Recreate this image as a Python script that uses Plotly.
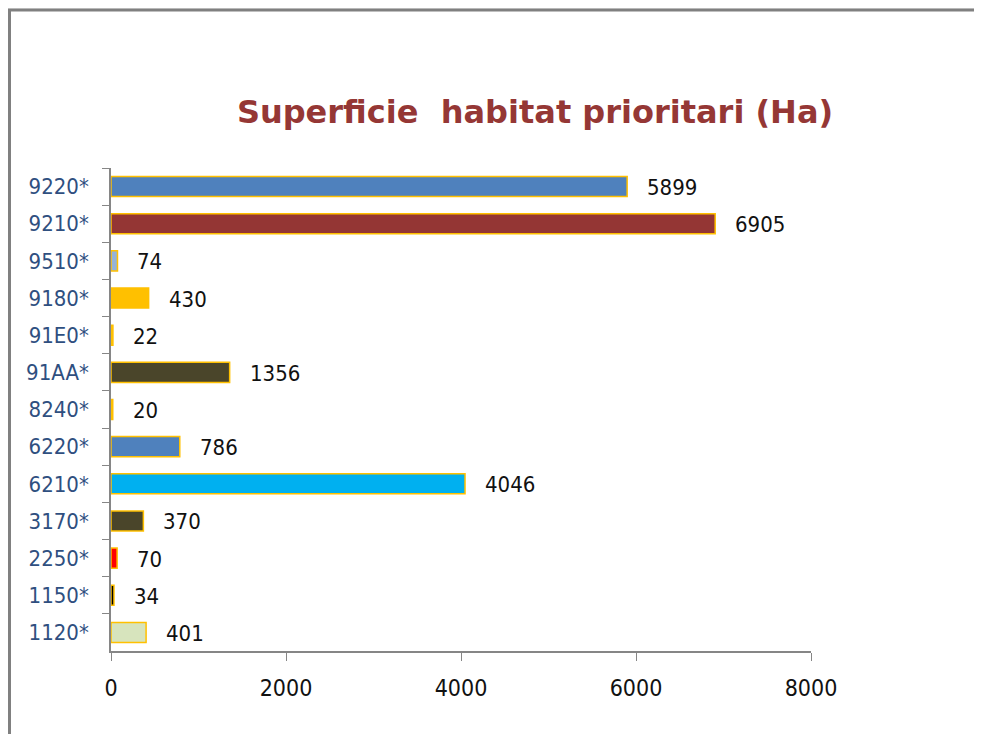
import plotly.graph_objects as go

categories = ["9220*", "9210*", "9510*", "9180*", "91E0*", "91AA*", "8240*",
              "6220*", "6210*", "3170*", "2250*", "1150*", "1120*"]
values = [5899, 6905, 74, 430, 22, 1356, 20, 786, 4046, 370, 70, 34, 401]
bar_colors = ["#4F81BD", "#943634", "#95B3D7", "#FFC000", "#FFC000", "#4A452A", "#FFC000",
              "#4F81BD", "#00B0F0", "#4A452A", "#FF0000", "#000000", "#D7E4BD"]
x_ticks = [0, 2000, 4000, 6000, 8000]
title_text = "Superficie\u00a0\u00a0habitat prioritari (Ha)"

FONT = "DejaVu Sans Condensed, DejaVu Sans, sans-serif"
OFF = 8  # page body margin
W, H = 982 - 2 * OFF, 742 - 2 * OFF
L, T = 111 - OFF, 168 - OFF
R = W - (811 - OFF)
B = H - (651 - OFF)
pw, ph = W - L - R, H - T - B

def px(x):
    return (x - OFF - L) / pw

def py(y):
    return (H - B - (y - OFF)) / ph

fig = go.Figure()
fig.add_trace(go.Bar(
    x=values, y=categories, orientation="h",
    marker=dict(color=bar_colors, line=dict(color="#FFC000", width=1.5)),
    width=0.54, hoverinfo="x+y",
))

for c, v in zip(categories, values):
    fig.add_annotation(x=v, y=c, text=str(v), showarrow=False, xanchor="left",
                       xshift=18, yshift=-1,
                       font=dict(family=FONT, size=22, color="#111111"))

# outer frame
fig.add_shape(type="rect", xref="paper", yref="paper",
              x0=px(9.5), x1=px(1010), y0=py(780), y1=py(10),
              line=dict(color="#808080", width=3), fillcolor="white", layer="below")

fig.update_layout(
    width=W, height=H,
    margin=dict(l=L, r=R, t=T, b=B),
    paper_bgcolor="#f1f1f1",
    plot_bgcolor="rgba(0,0,0,0)",
    showlegend=False,
    title=dict(text=title_text, x=(535 - OFF) / W, xanchor="center",
               y=1 - (112 - OFF) / H, yanchor="middle",
               font=dict(family="DejaVu Sans", size=32, color="#953735", weight="bold")),
    xaxis=dict(range=[0, 8000], tickvals=x_ticks, ticks="outside", ticklen=8,
               tickcolor="#868686", showline=True, linecolor="#868686", linewidth=1.5,
               showgrid=False, zeroline=False, ticklabelstandoff=8,
               tickfont=dict(family=FONT, size=23, color="#111111")),
    yaxis=dict(autorange="reversed", ticks="outside", ticklen=7, tickson="boundaries",
               tickcolor="#868686", showline=True, linecolor="#868686", linewidth=1.5,
               showgrid=False, ticklabelstandoff=16,
               tickfont=dict(family=FONT, size=22, color="#2F4F7F")),
)

fig.write_html("out.html")
